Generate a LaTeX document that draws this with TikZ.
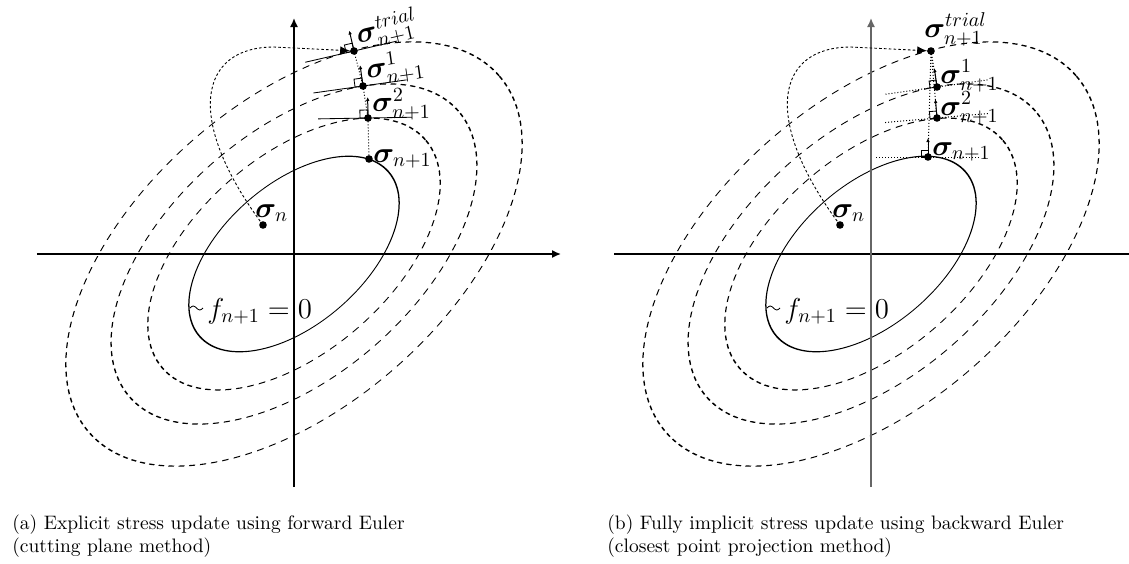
\documentclass[tikz,border=0pt]{standalone}
\usepackage{amsmath,amssymb,bm}
\usetikzlibrary{arrows.meta, calc}

\begin{document}
\begin{tikzpicture}[x=0.5pt, y=0.5pt,
    axis/.style={line width=0.75pt, -{Latex[length=4.5pt,width=4pt]}},
    surf/.style={line width=0.42pt},
    load/.style={line width=0.42pt, dash pattern=on 2.2pt off 1.8pt},
    trialpath/.style={line width=0.45pt, dash pattern=on 1.3pt off 1.1pt},
    ret/.style={line width=0.5pt, dash pattern=on 0.5pt off 1pt},
    stressdot/.style={circle, fill, inner sep=0pt, minimum size=3.8pt},
    nrm/.style={line width=0.5pt, -{Latex[length=2pt,width=1.8pt]}},
    lbl/.style={font=\fontsize{14.5}{17}\selectfont, inner sep=0pt, anchor=base west},
    captext/.style={font=\fontsize{9.75}{11.5}\selectfont, align=left, inner sep=0pt, anchor=north west}]
  \clip (-294,-309) rectangle (835,254);

  % Yield surfaces, (a) and (b)
  \foreach \r/\sty in {70.2/surf, 97.6/load, 122.1/load, 152.3/load} {
    \draw[\sty, transform canvas={rotate=41, xscale=1.784}] (0,0) circle (\r);
    \draw[\sty, transform canvas={xshift=288.5pt, rotate=41, xscale=1.784}] (0,0) circle (\r);
  }

  % ---------------- (a) cutting plane ----------------
  % Axes
  \draw[axis] (-257,0) -- (267,0);
  \draw[axis] (0,-233) -- (0,236);

  % Stress states
  \coordinate (snA) at (-31,29);
  \coordinate (trialA) at (60,203);
  \coordinate (s1A) at (69,168);
  \coordinate (s2A) at (74,136);
  \coordinate (snewA) at (75,95);

  % Elastic predictor
  \draw[trialpath, -{Latex[length=5pt,width=4pt]}, shorten >=1.9pt]
    (snA) .. controls (-110,135) and (-95,207) .. (-20,207) -- (trialA);

  % Plastic corrector
  \draw[ret] (trialA) -- (s1A) -- (s2A) -- (snewA);
  \foreach \p/\a in {trialA/13, s1A/8, s2A/1} {
    \begin{scope}[shift={(\p)}, rotate=\a]
      \draw[surf] (-50,0) -- (44,0);
      \draw[nrm] (0,0) -- (0,21);
      \draw[surf] (0,0) rectangle (-8,8);
    \end{scope}
  }
  \foreach \p in {snA, trialA, s1A, s2A, snewA}
    \node[stressdot] at (\p) {};

  % Labels
  \node[lbl] (lsnA) at (-39,37) {$\bm{\sigma}_n$};
  \node[lbl, rotate=13] (ltrialA) at (64,210) {$\bm{\sigma}^{trial}_{n+1}$};
  \node[lbl, rotate=8] (ls1A) at (73,175) {$\bm{\sigma}^{1}_{n+1}$};
  \node[lbl, rotate=1] (ls2A) at (78,142) {$\bm{\sigma}^{2}_{n+1}$};
  \node[lbl] (lsnewA) at (79,92) {$\bm{\sigma}_{n+1}$};
  \node[lbl] (lfA) at (-87,-64) {$f_{n+1}=0$};
  \draw[surf] (-104,-54) sin (-100.75,-52) cos (-97.5,-54) sin (-94.25,-56) cos (-91,-54);

  \node[captext] (capA) at (-282,-260) {(a) Explicit stress update using forward Euler\\(cutting plane method)};

  % ---------------- (b) closest point projection ----------------
  \begin{scope}[xshift=288.5pt]
    % Axes
    \draw[axis] (-257,0) -- (267,0);
    \draw[axis, black!60] (0,-233) -- (0,236);

    % Stress states
    \coordinate (snB) at (-31,29);
    \coordinate (trialB) at (60,203);
    \coordinate (s1B) at (66,167);
    \coordinate (s2B) at (66,136);
    \coordinate (snewB) at (57,97);

    % Elastic predictor
    \draw[trialpath, -{Latex[length=5pt,width=4pt]}, shorten >=1.9pt]
      (snB) .. controls (-110,135) and (-95,207) .. (-20,207) -- (trialB);

    % Plastic corrector
    \foreach \p in {s1B, s2B, snewB}
      \draw[ret] (trialB) -- (\p);
    \foreach \p/\a in {s1B/8, s2B/5, snewB/0} {
      \begin{scope}[shift={(\p)}, rotate=\a]
        \draw[ret] (-52,0) -- (52,0);
        \draw[nrm] (0,0) -- (0,19);
        \draw[surf] (0,0) rectangle (-7,7);
      \end{scope}
    }
    \foreach \p in {snB, trialB, s1B, s2B, snewB}
      \node[stressdot] at (\p) {};

    % Labels
    \node[lbl] (lsnB) at (-39,37) {$\bm{\sigma}_n$};
    \node[lbl] (ltrialB) at (53,217) {$\bm{\sigma}^{trial}_{n+1}$};
    \node[lbl] (ls1B) at (69,171) {$\bm{\sigma}^{1}_{n+1}$};
    \node[lbl] (ls2B) at (69,139) {$\bm{\sigma}^{2}_{n+1}$};
    \node[lbl] (lsnewB) at (61,99) {$\bm{\sigma}_{n+1}$};
    \node[lbl] (lfB) at (-87,-64) {$f_{n+1}=0$};
    \draw[surf] (-104,-54) sin (-100.75,-52) cos (-97.5,-54) sin (-94.25,-56) cos (-91,-54);

    \node[captext] (capB) at (-264,-260) {(b) Fully implicit stress update using backward Euler\\(closest point projection method)};
  \end{scope}
\end{tikzpicture}
\end{document}
